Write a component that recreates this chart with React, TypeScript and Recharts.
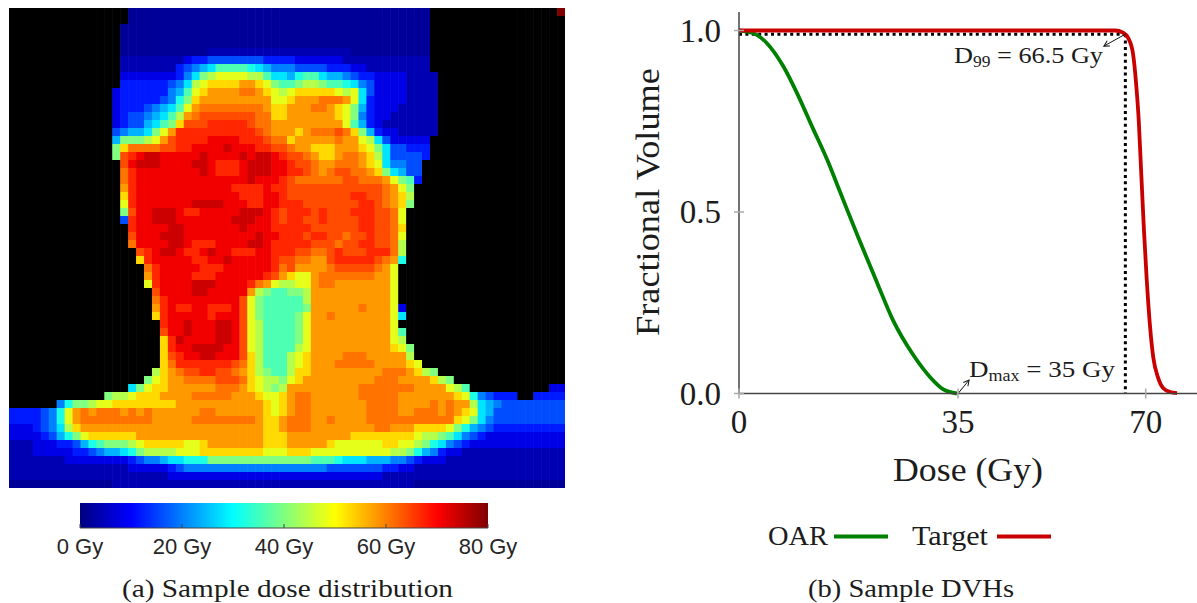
import React from 'react'
import {
  Area,
  AreaChart,
  Line,
  LineChart,
  ReferenceLine,
  Scatter,
  ScatterChart,
  XAxis,
  YAxis,
} from 'recharts'

// dose map: one character per cell, looked up in doseLevels (Gy), '.' = outside the body (black)
const DOSE_CODES = '0123456789ABCDEFGHIJK'
const doseLevels = [2, 4, 8, 12, 16, 20, 24, 28, 32, 36, 40, 44, 48, 53, 58, 61, 64, 67, 71, 74, 80]
const GRID_COLS = 70
const GRID_ROWS = 60
const HALF_COLS = 35

const leftRows = [
  '00000000000000000000',
  '00000000000000000000',
  '000000000000000000000',
  '000000000000000000000',
  '000000000000000000000',
  '000000000001111111111',
  '111111112334444444333',
  '111111134567999987655',
  '2222222357ABCCCCBB977',
  '333333457BCDDDDEEDCA9',
  '2333333569CDEEEEFFEDCB',
  '233333458ADEEEEEEEEECC',
  '233345679CEFFFFFFFFEDD',
  '23445679BEFGGGGGGGFFDD',
  '2344679ADGGGHHHHHGFFEE',
  '45667ACEHHHHHHHHHHGFEE',
  '6AAABCEGHHHHIIIIHHHGFF',
  'ADFFFFGGHHIIIIJIIIHHGG',
  'AGHIJJIIIIIJIIIIJIJJIH',
  'GIJJJIIIIJJIHHHIJJJII',
  'FHIIIIIIIIJIHHHIJJJII',
  'FHIIIIIIIIIIIIIIJIIIH',
  'EHIIIIIIIIIIIIHHHHIHH',
  'DHIIIIIIIIIIIIIHHHIIH',
  'CHIIIIIIIJJJJIIIHHIIH',
  'AGIIJJJIHHIIIIIJJJIHG',
  '4HIIJJJIIIIIIIJJJIIHG',
  'HIIIIJJIIIIIIIJIIIHH',
  'GIIIJJJIIIIIIIIIJIIH',
  'FIIIIJJIHHHIIIIJJIHH',
  'GHIJJIHHIJIIHHHIIHH',
  'DHIIIIIHHIIJIIIIIHG',
  'FHIIIIIHHHIIIIIIHF',
  'EHIIIIHHHIIIIIIHGE',
  'CHIIIIJJJIIIIHFECB',
  'GIIIIJJIIIIIEBA99',
  'FHIIIIIIIIIGCA999',
  'EHIHHIIHHHIGCA999',
  'DHIIIIIHIIIGCA999',
  'HIIJIIIJJIGCB999',
  'GIIJIIIJJIGCB999',
  'DHJIIIIJJIGCB999',
  'DHIIJJJJIIGCB999',
  'DGHIIJJIIIGDB999',
  'DFHHHHHHHGFDB999',
  'BDEFGGHHGGFEDBA99',
  'ACDEEFFFFGGGFDCBBA',
  '7ACDDEEEEEEFFFEDCBAB',
  'ABBCDDDEEEEFFFFFEEEDCCD',
  '58AABCCDDDDDDDDEEEEEEEEEEEDCD',
  '3333458CEFEFFFEFEFEEEEEEFFEEEEEEDCD',
  '3333458CEFFFFFFFFFEEEEEFFFFFFFFEDDE',
  '2223457BDEEEEEEEEEEEEEEEEEEEEEEEDDE',
  '22223468ACDDDDDDEEEEEEEEEEEEEEEEDDD',
  '111222334689AAABCDDDDDCCDEEEEEEEDDD',
  '1112222233456678ABBBBCCCDDDDDDDDCCC',
  '1111111222222223455677888AAAAAAAAAA',
  '11111111111111122222345555555555555',
  '11111111111111111111222222222222222',
  '00000000000001111111111111111111111',
]

const rightRows = [
  '000000000000000000................K',
  '000000000000000000',
  '000000000000000000',
  '000000000000000000',
  '000000000000000000',
  '111111110000000000',
  '322222211111111111',
  '544443332211111111',
  '6899766543322221111',
  '9ABBA99875422221111',
  'CDDDDDCBC7422221111',
  'DEEEFFFEC7322221111',
  'EEEFFEDCA6322211111',
  'EEEEEEDCA5322111111',
  'EEEEEEEC96321111111',
  'EDEFFFGFDA632211111',
  'DEEEEEFEECB7422222',
  'FEEDDDEEEDCA744333',
  'GGFEDDEFFEDB744443',
  'HGGFEEFFFEDC75544',
  'HHGFEFGGFFEDA7644',
  'GFFFFFFGGFFFECA93',
  'GGGGGGGGGGGGFECA',
  'GGGGGGGGHHGGFEDB',
  'HHGGGGGGGHHGFEDA',
  'HHHGHGGGHHHGGFC',
  'HHGGHGGGGHHGGFC',
  'HHHGGGGGGHHGGFD',
  'HHGHHGGFGGHGGFC',
  'HHHGGGFGGHHGGFB',
  'HGGFFGHGGGHHHFB',
  'GFFEEGHHHHHGFE8',
  'GEEEEFGGGGGFEC',
  'DCCEFFFFFFFEEC',
  'BCCEFFEEEEEEEC',
  'AABEEEEEEEEEEC',
  '99BEEEEEEEEEEC',
  '99AEEEEEEFEEEC2',
  '9ACEEFEEEEEEEC7',
  '9ACEEEEEEEEEEC',
  '9ACEEEEEEEEEEC9',
  '9ACEEEEEEEEEECB',
  '9BCEEEEEEEEEEDCA',
  'BCDEEEEFFFEEEEEB',
  'BCDEEEFFFFFEEEEDC',
  'BDDEEEEEEEEEFFFEDBA',
  'CDEEEEEEEEEFFFEEEEDBA',
  'EEEEEEEEEFFFFFFFEEEECB9..........22',
  'EFFEEEEEEFFFFFEEEEEEEDC854333..3333',
  'EFFEEEEEEEFFFFEEEEFEFEEB76544444444',
  'EFFEEEEEEEFFFFEEFFFEFEDC76444444444',
  'FFFEEFEEEEFFFFFFFFFFFDCA75444444444',
  'FFFEEEEEEEEFFEEEDDDDCA8654333333333',
  'EEEEEEEEDDDDDDDDCBBA975432222222222',
  'EEEEEDCCCCCCDDCCBA87543222222222222',
  'DDDCCCCCCCCCCBBA8653221111111111111',
  'AAA99987776665543222111111111111111',
  '55555444444433221111111111111111111',
  '22222222222211111111111111111111111',
  '11111111111111110000000000000000000',
]

// colour bar
const colorbarDoses = [0, 80]
const colorbarFill = [1, 1]
const colorbarTicks = [0, 20, 40, 60, 80]
const jetStopDoses = [0, 10, 30, 50, 70, 80]

// DVH curves (x in the plot's linear units)
const oarDose = [0, 2.4, 4.8, 7.6, 10, 12.7, 15.2, 17.4, 20.5, 23.8, 26.5, 30, 32.9, 35.1, 37.5]
const oarVolume = [1, 0.993, 0.965, 0.902, 0.827, 0.731, 0.643, 0.555, 0.431, 0.304, 0.202, 0.106, 0.045, 0.012, 0]
const targetDose = [0, 30, 64.7, 66.1, 67, 67.8, 68.4, 68.8, 69.15, 69.45, 69.7, 70.15, 70.7, 71.3, 72.1, 73, 74.2, 75.4]
const targetVolume = [1, 1, 1, 0.994, 0.979, 0.938, 0.844, 0.753, 0.635, 0.533, 0.45, 0.321, 0.194, 0.1, 0.045, 0.015, 0.004, 0.001]

const d99Dose = 66.5
const d99Volume = 0.99
const dvhYTicks = [0, 0.5, 1]
// the printed 35 tick sits a little right of its linear place, as in the source figure
const dvhXTicks = [0, 37.7, 70]
const dvhXLabels = ['0', '35', '70']

const SERIF = "'Liberation Serif', serif"
const SANS = "'Liberation Sans', sans-serif"
const INK = '#1c1c1c'
const OAR_COLOR = '#008000'
const TARGET_COLOR = '#c80000'

const clamp01 = (v: number) => Math.max(0, Math.min(1, v))

function jetColor(dose: number) {
  const t = dose / 80
  const r = clamp01(1.5 - Math.abs(4 * t - 3))
  const g = clamp01(1.5 - Math.abs(4 * t - 2))
  const b = clamp01(1.5 - Math.abs(4 * t - 1))
  return `rgb(${Math.round(r * 255)},${Math.round(g * 255)},${Math.round(b * 255)})`
}

const heatCells = leftRows.flatMap((left, row) => {
  const line = left.padStart(HALF_COLS, '.') + rightRows[row].padEnd(HALF_COLS, '.')
  return line.split('').map((code, col) => ({
    col: col + 0.5,
    row: row + 0.5,
    dose: code === '.' ? null : doseLevels[DOSE_CODES.indexOf(code)],
  }))
})

const HEAT_W = 556
const HEAT_H = 480

function HeatCell(props: any) {
  const w = HEAT_W / GRID_COLS
  const h = HEAT_H / GRID_ROWS
  const dose = props.payload.dose
  return (
    <rect
      x={props.cx - w / 2}
      y={props.cy - h / 2}
      width={w + 0.6}
      height={h + 0.6}
      fill={dose === null ? '#000' : jetColor(dose)}
    />
  )
}

function ColorbarTick({ x, y, payload }: any) {
  return (
    <g>
      <line x1={x} x2={x} y1={y} y2={y - 4} stroke="#444" strokeWidth={1} />
      <text x={x} y={y + 26} textAnchor="middle" fontFamily={SANS} fontSize={22} fill="#262626">
        {payload.value} Gy
      </text>
    </g>
  )
}

function DvhXTick({ x, y, index }: any) {
  return (
    <g>
      <line x1={x} x2={x} y1={y - 5} y2={y + 5} stroke="#aaa" strokeWidth={1.5} />
      <text x={x} y={y + 39.5} textAnchor="middle" fontFamily={SERIF} fontSize={33} fill={INK}>
        {dvhXLabels[index]}
      </text>
    </g>
  )
}

function DvhYTick({ x, y, payload }: any) {
  return (
    <g>
      <line x1={x - 5} x2={x + 5} y1={y} y2={y} stroke="#aaa" strokeWidth={1.5} />
      <text x={x - 18} y={y + 11} textAnchor="end" fontFamily={SERIF} fontSize={33} fill={INK}>
        {payload.value.toFixed(1)}
      </text>
    </g>
  )
}

const toRows = (xs: number[], ys: number[]) => xs.map((x, i) => ({ x, y: ys[i] }))

function Caption(props: { x: number; y: number; len: number; size: number; anchor?: string; rotate?: boolean; children: any }) {
  const { x, y, len, size, anchor = 'start', rotate, children } = props
  return (
    <text
      x={x}
      y={y}
      textLength={len}
      lengthAdjust="spacingAndGlyphs"
      textAnchor={anchor}
      fontFamily={SERIF}
      fontSize={size}
      fill={INK}
      transform={rotate ? `rotate(-90 ${x} ${y})` : undefined}
    >
      {children}
    </text>
  )
}

export default function App() {
  return (
    <div style={{ position: 'absolute', left: 0, top: 0, width: 1197, height: 603, overflow: 'hidden', background: '#fff' }}>
      <div style={{ position: 'absolute', left: 9, top: 8 }}>
        <ScatterChart width={HEAT_W} height={HEAT_H} margin={{ top: 0, right: 0, bottom: 0, left: 0 }}>
          <XAxis type="number" dataKey="col" domain={[0, GRID_COLS]} hide />
          <YAxis type="number" dataKey="row" domain={[0, GRID_ROWS]} reversed hide />
          <Scatter data={heatCells} shape={HeatCell} isAnimationActive={false} />
        </ScatterChart>
      </div>

      <div style={{ position: 'absolute', left: 30, top: 495 }}>
        <AreaChart
          width={520}
          height={70}
          data={toRows(colorbarDoses, colorbarFill)}
          margin={{ top: 8, right: 62, bottom: 0, left: 50 }}
        >
          <defs>
            <linearGradient id="jet" x1="0" y1="0" x2="1" y2="0">
              {jetStopDoses.map((d) => (
                <stop key={d} offset={d / 80} stopColor={jetColor(d)} />
              ))}
            </linearGradient>
          </defs>
          <XAxis
            type="number"
            dataKey="x"
            domain={[0, 80]}
            ticks={colorbarTicks}
            interval={0}
            height={37}
            tickSize={0}
            tickMargin={0}
            tick={<ColorbarTick />}
            stroke="#444"
          />
          <YAxis type="number" domain={[0, 1]} hide />
          <Area dataKey="y" type="linear" fill="url(#jet)" fillOpacity={1} stroke="none" isAnimationActive={false} />
        </AreaChart>
      </div>

      <div style={{ position: 'absolute', left: 620, top: 0 }}>
        <LineChart width={577} height={490} margin={{ top: 12, right: 0, bottom: 0, left: 0 }}>
          <defs>
            <marker id="arrowTip" markerWidth="8" markerHeight="8" refX="6" refY="3.5" orient="auto" markerUnits="userSpaceOnUse">
              <path d="M0.5,0.5 L6,3.5 L0.5,6.5" fill="none" stroke="#111" strokeWidth="1" />
            </marker>
          </defs>
          <XAxis
            type="number"
            dataKey="x"
            domain={[0, 78.83]}
            ticks={dvhXTicks}
            interval={0}
            height={96.5}
            tickSize={0}
            tickMargin={0}
            tick={<DvhXTick />}
            stroke="#444"
            strokeWidth={1.5}
            allowDuplicatedCategory={false}
          />
          <YAxis
            type="number"
            domain={[0, 1.051]}
            ticks={dvhYTicks}
            interval={0}
            width={119}
            tickSize={0}
            tickMargin={0}
            tick={<DvhYTick />}
            stroke="#444"
            strokeWidth={1.5}
          />
          <Line
            data={toRows([0, d99Dose], [d99Volume, d99Volume])}
            dataKey="y"
            type="linear"
            dot={false}
            stroke="#000"
            strokeWidth={3}
            strokeDasharray="3 3.4"
            isAnimationActive={false}
            legendType="none"
          />
          <Line
            data={toRows([d99Dose, d99Dose], [d99Volume, 0])}
            dataKey="y"
            type="linear"
            dot={false}
            stroke="#000"
            strokeWidth={3}
            strokeDasharray="3 3.4"
            isAnimationActive={false}
            legendType="none"
          />
          <Line
            name="OAR"
            data={toRows(oarDose, oarVolume)}
            dataKey="y"
            type="monotone"
            dot={false}
            stroke={OAR_COLOR}
            strokeWidth={3.8}
            isAnimationActive={false}
          />
          <Line
            name="Target"
            data={toRows(targetDose, targetVolume)}
            dataKey="y"
            type="monotone"
            dot={false}
            stroke={TARGET_COLOR}
            strokeWidth={3.8}
            isAnimationActive={false}
          />
          <ReferenceLine
            segment={[{ x: d99Dose, y: d99Volume }, { x: 62.8, y: 0.957 }]}
            stroke="#111"
            strokeWidth={1}
            markerEnd="url(#arrowTip)"
          />
          <ReferenceLine
            segment={[{ x: 37.7, y: 0 }, { x: 39.6, y: 0.037 }]}
            stroke="#111"
            strokeWidth={1}
            markerEnd="url(#arrowTip)"
          />
        </LineChart>
      </div>

      <svg width={1197} height={603} style={{ position: 'absolute', left: 0, top: 0, pointerEvents: 'none' }}>
        <Caption x={122} y={597} len={331} size={25}>(a) Sample dose distribution</Caption>
        <Caption x={808} y={597} len={206} size={25}>(b) Sample DVHs</Caption>
        <Caption x={893} y={481} len={150} size={33}>Dose (Gy)</Caption>
        <Caption x={659} y={336} len={268} size={33} rotate>Fractional Volume</Caption>
        <Caption x={768} y={545} len={60} size={28}>OAR</Caption>
        <Caption x={912} y={545} len={76} size={28}>Target</Caption>
        <line x1={834} x2={888} y1={536.5} y2={536.5} stroke={OAR_COLOR} strokeWidth={3.8} />
        <line x1={997} x2={1051} y1={536.5} y2={536.5} stroke={TARGET_COLOR} strokeWidth={3.8} />
        <Caption x={954} y={63} len={149} size={24}>
          D<tspan dy={4} fontSize={16}>99</tspan>
          <tspan dy={-4}> = 66.5 Gy</tspan>
        </Caption>
        <Caption x={969} y={377} len={146} size={24}>
          D<tspan dy={4} fontSize={16}>max</tspan>
          <tspan dy={-4}> = 35 Gy</tspan>
        </Caption>
      </svg>
    </div>
  )
}
